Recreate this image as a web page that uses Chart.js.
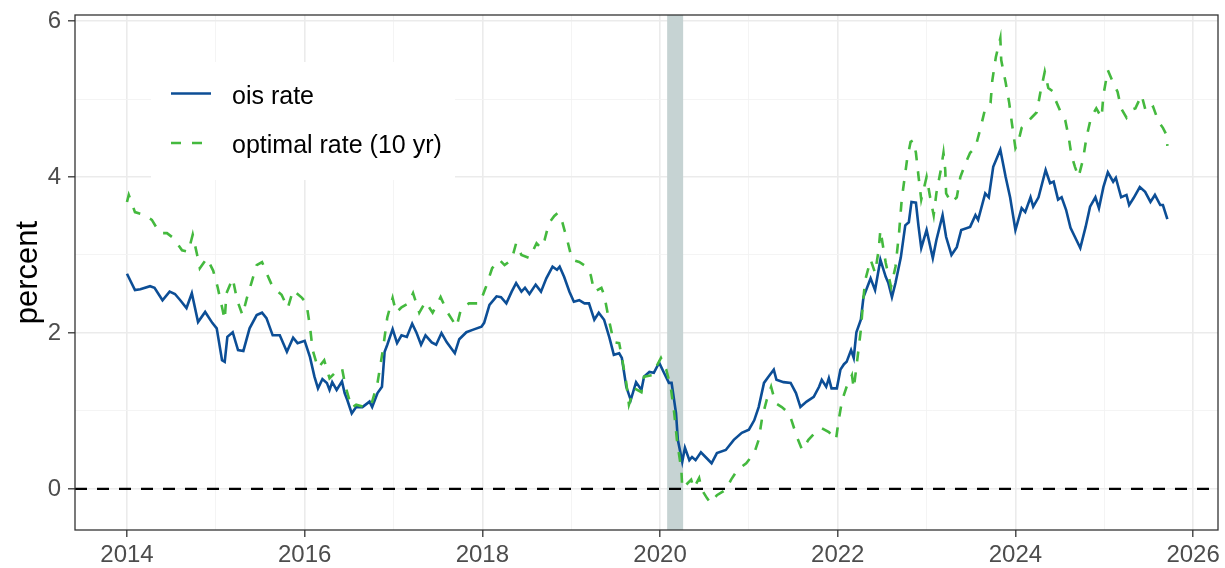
<!DOCTYPE html>
<html>
<head>
<meta charset="utf-8">
<script src="https://cdn.jsdelivr.net/npm/chart.js@4.4.1/dist/chart.umd.min.js"></script>
<style>
  html, body { margin: 0; padding: 0; background: #fff; }
</style>
</head>
<body>
<canvas id="rateChart" width="1225" height="568"></canvas>
<script>
// decimal-year dates
const oisDates = [
  2014.00,2014.09,2014.15,2014.26,2014.31,2014.40,2014.48,2014.54,2014.60,2014.67,
  2014.73,2014.80,2014.88,2014.96,2015.01,2015.07,2015.10,2015.13,2015.19,2015.25,
  2015.31,2015.38,2015.46,2015.52,2015.57,2015.64,2015.72,2015.80,2015.87,2015.92,
  2016.00,2016.06,2016.11,2016.15,2016.20,2016.25,2016.28,2016.31,2016.36,2016.42,
  2016.45,2016.48,2016.53,2016.58,2016.65,2016.73,2016.76,2016.82,2016.87,2016.90,
  2016.93,2016.99,2017.04,2017.09,2017.15,2017.21,2017.26,2017.31,2017.36,2017.43,
  2017.48,2017.54,2017.60,2017.69,2017.74,2017.82,2017.89,2017.99,2018.02,2018.08,
  2018.16,2018.21,2018.27,2018.33,2018.38,2018.44,2018.48,2018.53,2018.60,2018.66,
  2018.72,2018.79,2018.84,2018.87,2018.92,2018.98,2019.03,2019.09,2019.15,2019.20,
  2019.26,2019.31,2019.37,2019.43,2019.48,2019.54,2019.57,2019.62,2019.67,2019.73,
  2019.79,2019.82,2019.88,2019.93,2019.99,2020.04,2020.10,2020.13,2020.18,2020.20,
  2020.25,2020.28,2020.33,2020.36,2020.40,2020.46,2020.52,2020.58,2020.64,2020.74,
  2020.83,2020.92,2021.00,2021.06,2021.11,2021.17,2021.22,2021.28,2021.31,2021.39,
  2021.47,2021.53,2021.58,2021.65,2021.73,2021.79,2021.82,2021.87,2021.90,2021.93,
  2021.99,2022.03,2022.07,2022.10,2022.15,2022.18,2022.21,2022.26,2022.29,2022.35,
  2022.37,2022.42,2022.48,2022.54,2022.57,2022.61,2022.65,2022.71,2022.76,2022.80,
  2022.83,2022.88,2022.91,2022.94,2023.00,2023.07,2023.11,2023.18,2023.22,2023.28,
  2023.34,2023.39,2023.49,2023.55,2023.58,2023.66,2023.70,2023.75,2023.83,2023.89,
  2023.94,2024.00,2024.07,2024.11,2024.17,2024.20,2024.26,2024.34,2024.39,2024.43,
  2024.48,2024.52,2024.57,2024.62,2024.67,2024.73,2024.79,2024.84,2024.90,2024.94,
  2024.99,2025.04,2025.10,2025.13,2025.19,2025.25,2025.28,2025.33,2025.40,2025.46,
  2025.52,2025.57,2025.63,2025.66,2025.71
];
const oisRate = [
  2.76,2.55,2.56,2.60,2.58,2.42,2.53,2.50,2.42,2.32,
  2.51,2.14,2.27,2.13,2.06,1.65,1.63,1.95,2.01,1.78,
  1.77,2.06,2.23,2.26,2.19,1.97,1.97,1.76,1.94,1.87,
  1.90,1.69,1.44,1.29,1.41,1.36,1.27,1.37,1.27,1.38,
  1.23,1.14,0.97,1.05,1.05,1.12,1.05,1.23,1.31,1.76,
  1.85,2.05,1.87,1.97,1.95,2.12,2.00,1.85,1.97,1.88,
  1.85,2.00,1.88,1.74,1.92,2.01,2.04,2.08,2.13,2.36,
  2.47,2.46,2.38,2.53,2.64,2.53,2.58,2.50,2.62,2.53,
  2.70,2.85,2.81,2.85,2.72,2.53,2.40,2.42,2.38,2.38,
  2.17,2.26,2.17,1.94,1.72,1.74,1.68,1.31,1.14,1.37,
  1.27,1.44,1.50,1.49,1.62,1.50,1.36,1.36,0.97,0.63,
  0.35,0.53,0.37,0.41,0.37,0.47,0.40,0.33,0.46,0.50,
  0.63,0.72,0.76,0.88,1.05,1.36,1.44,1.53,1.40,1.37,
  1.36,1.23,1.05,1.12,1.18,1.31,1.40,1.31,1.42,1.29,
  1.29,1.53,1.60,1.63,1.78,1.68,2.01,2.17,2.46,2.64,
  2.70,2.55,2.94,2.72,2.64,2.46,2.64,2.97,3.38,3.42,
  3.68,3.67,3.36,3.09,3.32,2.96,3.19,3.51,3.23,3.00,
  3.10,3.32,3.36,3.51,3.45,3.79,3.74,4.13,4.35,4.00,
  3.74,3.32,3.60,3.55,3.74,3.62,3.74,4.09,3.92,3.94,
  3.71,3.74,3.58,3.35,3.23,3.09,3.36,3.62,3.74,3.60,
  3.87,4.06,3.94,3.99,3.74,3.77,3.64,3.73,3.87,3.81,
  3.68,3.77,3.64,3.64,3.46
];

const optDates = [
  2014.00,2014.02,2014.09,2014.18,2014.28,2014.37,2014.45,2014.52,2014.62,2014.69,
  2014.74,2014.79,2014.82,2014.90,2014.97,2015.02,2015.07,2015.10,2015.12,2015.19,
  2015.24,2015.30,2015.35,2015.40,2015.46,2015.52,2015.57,2015.64,2015.74,2015.81,
  2015.87,2015.97,2016.02,2016.06,2016.09,2016.15,2016.22,2016.28,2016.35,2016.42,
  2016.46,2016.53,2016.58,2016.67,2016.75,2016.82,2016.88,2016.93,2016.99,2017.03,
  2017.09,2017.17,2017.22,2017.29,2017.36,2017.44,2017.53,2017.61,2017.71,2017.76,
  2017.85,2017.97,2018.04,2018.11,2018.19,2018.25,2018.33,2018.38,2018.44,2018.53,
  2018.61,2018.66,2018.70,2018.75,2018.81,2018.85,2018.90,2018.96,2019.01,2019.09,
  2019.17,2019.22,2019.26,2019.34,2019.37,2019.43,2019.48,2019.54,2019.57,2019.62,
  2019.65,2019.71,2019.79,2019.82,2019.91,2020.01,2020.07,2020.12,2020.16,2020.19,
  2020.24,2020.25,2020.29,2020.35,2020.38,2020.44,2020.47,2020.53,2020.57,2020.64,
  2020.74,2020.80,2020.87,2020.97,2021.06,2021.11,2021.15,2021.20,2021.25,2021.30,
  2021.37,2021.45,2021.48,2021.54,2021.60,2021.67,2021.75,2021.82,2021.90,2021.98,
  2022.01,2022.05,2022.10,2022.16,2022.18,2022.21,2022.26,2022.29,2022.31,2022.37,
  2022.42,2022.46,2022.48,2022.54,2022.60,2022.65,2022.69,2022.72,2022.78,2022.82,
  2022.85,2022.88,2022.91,2022.94,2023.00,2023.04,2023.08,2023.11,2023.16,2023.19,
  2023.21,2023.22,2023.28,2023.34,2023.38,2023.44,2023.49,2023.55,2023.61,2023.66,
  2023.72,2023.74,2023.78,2023.83,2023.84,2023.89,2023.93,2023.96,2024.00,2024.03,
  2024.07,2024.12,2024.18,2024.24,2024.28,2024.33,2024.37,2024.43,2024.45,2024.51,
  2024.56,2024.60,2024.63,2024.67,2024.71,2024.76,2024.80,2024.85,2024.91,2024.97,
  2024.99,2025.04,2025.10,2025.15,2025.19,2025.25,2025.30,2025.35,2025.42,2025.47,
  2025.55,2025.61,2025.66,2025.70,2025.71
];
const optRate = [
  3.68,3.77,3.55,3.52,3.45,3.28,3.28,3.22,3.06,3.04,
  3.26,3.00,2.83,2.96,2.80,2.59,2.33,2.17,2.51,2.70,
  2.42,2.23,2.45,2.64,2.87,2.91,2.77,2.59,2.49,2.32,
  2.55,2.45,2.38,2.08,1.78,1.55,1.65,1.42,1.50,1.55,
  1.31,1.04,1.08,1.05,1.08,1.36,1.78,2.20,2.45,2.26,
  2.33,2.38,2.51,2.26,2.40,2.26,2.46,2.26,2.08,2.31,
  2.38,2.38,2.59,2.83,2.94,2.87,2.94,3.15,3.00,2.96,
  3.15,3.09,3.19,3.41,3.50,3.54,3.42,3.17,2.94,2.91,
  2.85,2.74,2.53,2.58,2.49,2.14,1.88,1.87,1.69,1.36,
  1.08,1.29,1.24,1.44,1.46,1.68,1.53,1.31,0.97,0.63,
  0.24,0.01,0.05,0.12,0.01,0.14,-0.01,-0.12,-0.18,-0.08,
  -0.01,0.12,0.24,0.33,0.46,0.63,0.92,1.14,1.31,1.10,
  1.05,0.97,0.88,0.67,0.50,0.63,0.73,0.78,0.73,0.63,
  0.88,1.14,1.31,1.46,1.29,1.56,2.04,2.46,2.68,2.94,
  2.77,3.06,3.32,2.90,2.59,2.85,3.28,3.71,4.22,4.45,
  4.47,4.31,4.00,3.71,4.00,3.74,3.51,3.79,4.09,4.31,
  4.09,3.79,3.67,3.74,4.00,4.18,4.31,4.38,4.64,4.88,
  4.95,5.24,5.54,5.78,5.50,5.21,4.95,4.69,4.37,4.44,
  4.63,4.69,4.76,4.83,5.08,5.35,5.14,5.09,4.99,4.83,
  4.73,4.51,4.28,4.13,4.00,4.22,4.51,4.76,4.88,4.76,
  5.05,5.37,5.21,5.09,4.88,4.76,4.86,4.88,5.05,4.83,
  4.90,4.71,4.63,4.54,4.40
];

const recession = [2020.08, 2020.26];
const yearTicks = [2014, 2015, 2016, 2017, 2018, 2019, 2020, 2021, 2022, 2023, 2024, 2025, 2026];
const rateTicks = [0, 1, 2, 3, 4, 5, 6];
const xRange = [2013.415, 2026.28];
const yRange = [-0.526, 6.077];

const FONT = "'Liberation Sans', Arial, Helvetica, sans-serif";
const BLUE = '#0c4e96';
const GREEN = '#44b93e';

function toPoints(xs, ys) {
    return xs.map((x, i) => ({ x: x, y: ys[i] }));
}

const isMajor = v => v % 2 === 0;

// grey shaded recession period
const recessionBand = {
    id: 'recessionBand',
    beforeDatasetsDraw(chart) {
        const { ctx, chartArea, scales } = chart;
        const x0 = scales.x.getPixelForValue(recession[0]);
        const x1 = scales.x.getPixelForValue(recession[1]);
        ctx.save();
        ctx.fillStyle = '#c6d3d3';
        ctx.fillRect(x0, chartArea.top, x1 - x0, chartArea.bottom - chartArea.top);
        ctx.restore();
    }
};

// legend box inside the panel (ggplot style)
const insideLegend = {
    id: 'insideLegend',
    afterDatasetsDraw(chart) {
        const ctx = chart.ctx;
        const items = chart.data.datasets.filter(d => d.inLegend);
        ctx.save();
        ctx.fillStyle = '#ffffff';
        ctx.fillRect(151, 62, 304, 118);
        items.forEach((d, i) => {
            const y = 93.5 + i * 49.5;
            ctx.strokeStyle = d.borderColor;
            ctx.lineWidth = d.borderWidth;
            ctx.setLineDash(d.borderDash || []);
            ctx.beginPath();
            ctx.moveTo(171, y);
            ctx.lineTo(211, y);
            ctx.stroke();
            ctx.setLineDash([]);
            ctx.fillStyle = '#000000';
            ctx.font = '25px ' + FONT;
            ctx.textBaseline = 'alphabetic';
            ctx.textAlign = 'left';
            ctx.fillText(d.label, 232, y + 10);
        });
        ctx.restore();
    }
};

// panel border
const panelFrame = {
    id: 'panelFrame',
    afterDraw(chart) {
        const { ctx, chartArea } = chart;
        ctx.save();
        ctx.strokeStyle = '#333333';
        ctx.lineWidth = 1.3;
        ctx.strokeRect(chartArea.left, chartArea.top,
            chartArea.right - chartArea.left, chartArea.bottom - chartArea.top);
        ctx.restore();
    }
};

function gridOpts() {
    return {
        color: c => isMajor(c.tick.value) ? '#ebebeb' : '#f3f3f3',
        lineWidth: c => isMajor(c.tick.value) ? 1.6 : 0.9,
        tickColor: c => isMajor(c.tick.value) ? '#333333' : 'rgba(0,0,0,0)',
        tickWidth: 1.3,
        tickLength: 7,
        drawTicks: true
    };
}

const ctx = document.getElementById('rateChart').getContext('2d');
const chart = new Chart(ctx, {
    type: 'line',
    data: {
        datasets: [{
            label: 'zero',
            data: [{ x: xRange[0], y: 0 }, { x: xRange[1], y: 0 }],
            borderColor: '#000000',
            borderWidth: 2.3,
            borderDash: [12, 10],
            order: 0
        }, {
            label: 'ois rate',
            inLegend: true,
            data: toPoints(oisDates, oisRate),
            borderColor: BLUE,
            borderWidth: 2.6,
            order: 2
        }, {
            label: 'optimal rate (10 yr)',
            inLegend: true,
            data: toPoints(optDates, optRate),
            borderColor: GREEN,
            borderWidth: 2.6,
            borderDash: [10, 11],
            order: 1
        }]
    },
    options: {
        responsive: false,
        animation: false,
        devicePixelRatio: 1,
        parsing: false,
        layout: { padding: { top: 15, right: 7, left: 0, bottom: 0 } },
        elements: {
            point: { radius: 0 },
            line: { tension: 0, fill: false, borderCapStyle: 'butt' }
        },
        plugins: {
            legend: { display: false },
            tooltip: { enabled: false }
        },
        scales: {
            x: {
                type: 'linear',
                min: xRange[0],
                max: xRange[1],
                border: { display: false },
                grid: gridOpts(),
                afterBuildTicks: s => { s.ticks = yearTicks.map(v => ({ value: v })); },
                afterFit: s => { s.height = 38; s.paddingLeft = 0; s.paddingRight = 0; },
                ticks: {
                    autoSkip: false,
                    maxRotation: 0,
                    padding: 4,
                    color: '#4d4d4d',
                    font: { family: FONT, size: 24 },
                    callback: v => isMajor(v) ? String(v) : ''
                }
            },
            y: {
                type: 'linear',
                min: yRange[0],
                max: yRange[1],
                border: { display: false },
                grid: gridOpts(),
                afterBuildTicks: s => { s.ticks = rateTicks.map(v => ({ value: v })); },
                afterFit: s => { s.width = 75; s.paddingTop = 0; s.paddingBottom = 0; },
                title: {
                    display: true,
                    text: 'percent',
                    color: '#000000',
                    font: { family: FONT, size: 31 },
                    padding: { top: 10, bottom: 0 }
                },
                ticks: {
                    autoSkip: false,
                    padding: 7,
                    color: '#4d4d4d',
                    font: { family: FONT, size: 24 },
                    callback: v => isMajor(v) ? String(v) : ''
                }
            }
        }
    },
    plugins: [recessionBand, insideLegend, panelFrame]
});
</script>
</body>
</html>
